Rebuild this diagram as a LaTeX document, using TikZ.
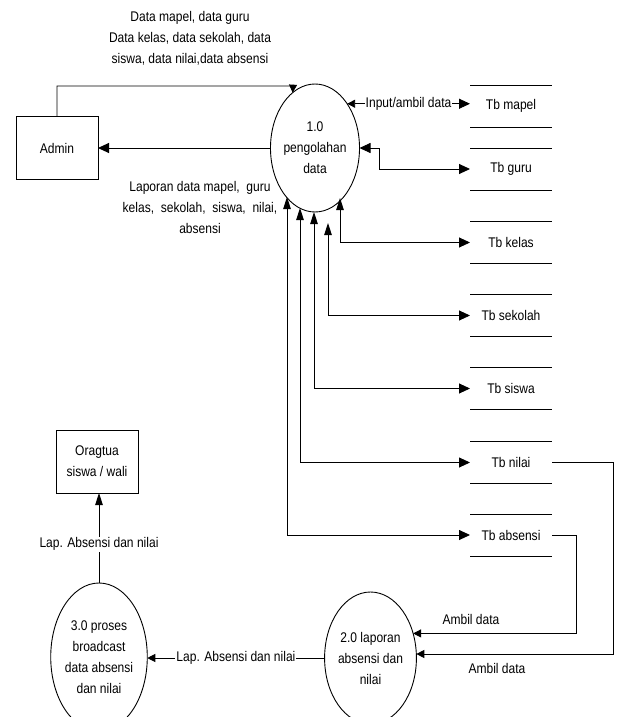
\documentclass[tikz,border=0pt]{standalone}
\usepackage{fontspec}
\setmainfont{Liberation Sans}[FakeStretch=0.86]
\usetikzlibrary{arrows.meta,shapes.geometric}
\begin{document}
\begin{tikzpicture}[x=1pt,y=-1pt,
  font=\fontsize{14}{21}\selectfont,
  line width=0.9pt,
  H/.tip={Triangle[length=11pt,width=10pt]},
  V/.tip={Triangle[length=12pt,width=7.5pt]},
  S/.tip={Triangle[length=8pt,width=8pt]},
  proc/.style={ellipse,draw,inner sep=0pt,outer sep=0pt,align=center},
  ent/.style={rectangle,draw,inner sep=0pt,outer sep=0pt,align=center,minimum width=82pt,minimum height=63pt},
  store/.style={rectangle,inner sep=0pt,outer sep=0pt,minimum width=82pt,minimum height=42pt},
  lbl/.style={fill=white,inner sep=1pt},
  txt/.style={align=center,inner sep=0pt}]
\useasboundingbox (0,0) rectangle (617,717);

% processes and entities
\node[proc,minimum width=84pt,minimum height=128pt] (p1) at (315,148) {1.0\\pengolahan\\data};
\node[ent] (admin) at (57,148) {Admin};
\node[ent] (ortu) at (97,461.5) {Oragtua\\siswa / wali};
\node[proc,minimum width=87pt,minimum height=132pt] (p2) at (370.5,658) {2.0 laporan\\absensi dan\\nilai};
\node[proc,minimum width=82pt,minimum height=148pt] (p3) at (99,657) {3.0 proses\\broadcast\\data absensi\\dan nilai};

% data stores
\foreach \n/\t/\y in {mapel/Tb mapel/106, guru/Tb guru/169, kelas/Tb kelas/242.5,
  sekolah/Tb sekolah/315.5, siswa/Tb siswa/388.5, nilai/Tb nilai/462.5, absensi/Tb absensi/535}{
  \node[store] (\n) at (511,\y) {\t};
  \draw (\n.north west) -- (\n.north east) (\n.south west) -- (\n.south east);
}

% labels
\node[txt] (lin) at (190,38) {Data mapel, data guru\\Data kelas, data sekolah, data\\siswa, data nilai,data absensi};
\node[txt] (lout) at (200,207) {Laporan data mapel,\ \ guru\\kelas,\ \ sekolah,\ \ siswa,\ \ nilai,\\absensi};

% admin <-> process 1
\coordinate (c1) at (293,86);
\draw[-S] (admin.north) |- (c1) -- (p1.112);
\draw[-H] (p1.west) -- (admin.east);

% process 1 <-> stores
\draw[S-H] (p1.54) -- (p1.54 -| mapel.west) node[lbl,midway] {Input/ambil data};
\draw[H-H] (p1.east) -- ++(20,0) |- (guru.west);
\draw[V-H] ([shift={(25,50)}]p1.center) |- (kelas.west);
\draw[V-H] ([shift={(13,75)}]p1.center) |- (sekolah.west);
\draw[V-H] ([shift={(-1,64)}]p1.center) |- (siswa.west);
\draw[V-H] ([shift={(-15,60)}]p1.center) |- (nilai.west);
\draw[V-H] ([shift={(-28,49)}]p1.center) |- (absensi.west);

% stores -> process 2
\draw[-S] (nilai.east) -- ++(61,0) |- (p2.5);
\draw[-S] (absensi.east) -- ++(24,0) |- (p2.30.6);
\node (a1) at (471,619) {Ambil data};
\node (a2) at (497,668) {Ambil data};

% process 2 -> process 3 -> ortu
\draw[-S] (p2.west) -- (p2.west -| p3.east) node[lbl,midway] {Lap. Absensi dan nilai};
\draw[-V] (p3.north) -- (p3.north |- ortu.south) node[lbl,pos=0.43] {Lap. Absensi dan nilai};
\end{tikzpicture}
\end{document}
